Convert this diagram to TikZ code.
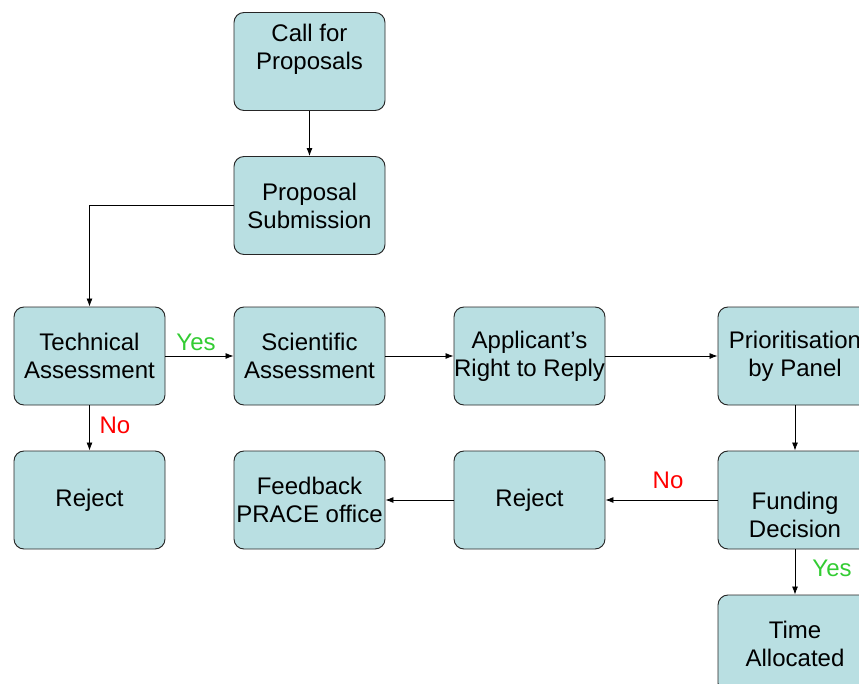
\documentclass[tikz,border=0pt]{standalone}
\usepackage{fontspec}
\setmainfont{Liberation Sans}
\usetikzlibrary{arrows.meta}
\definecolor{boxfill}{HTML}{B9DFE2}
\definecolor{yesgreen}{HTML}{33CC33}
\definecolor{nored}{HTML}{FF0000}
\begin{document}
\begin{tikzpicture}[x=0.75pt,y=-0.75pt,
  box/.style={draw=black!85, fill=boxfill, rounded corners=7.5pt, minimum width=113.25pt, minimum height=73.5pt, line width=0.7pt, inner sep=0pt},
  widebox/.style={box, minimum width=115.5pt},
  txt/.style={align=center, inner sep=0pt, font=\fontsize{18}{21}\selectfont},
  arr/.style={-{Latex[length=6pt,width=4.5pt]}, line width=0.6pt},
  yeslbl/.style={text=yesgreen, inner sep=0pt, font=\fontsize{18}{21}\selectfont},
  nolbl/.style={text=nored, inner sep=0pt, font=\fontsize{18}{21}\selectfont}]
\useasboundingbox (0,0) rectangle (859,684);
\clip (0,0) rectangle (859,684);
% boxes
\node[box] (call) at (309.5,61.5) {};
\node[txt] (callt) at (309.5,49) {Call for\\Proposals};
\node[box,txt] (prop) at (309.5,205.5) {Proposal\\Submission};
\node[box,txt] (tech) at (89.5,356) {Technical\\Assessment};
\node[box,txt] (sci) at (309.5,356) {Scientific\\Assessment};
\node[box,txt] (app) at (529.5,356) {Applicant’s\\Right to Reply};
\node[widebox,txt] (prio) at (795,356) {Prioritisation\\by Panel};
\node[box,txt] (rej1) at (89.5,500) {Reject};
\node[box,txt] (feed) at (309.5,500) {Feedback\\PRACE office};
\node[box,txt] (rej2) at (529.5,500) {Reject};
\node[widebox] (fund) at (795,500) {};
\node[txt] (fundt) at (795,515) {Funding\\Decision};
\node[widebox,txt] (time) at (795,644) {Time\\Allocated};
% connectors
\draw[arr] (call) -- (prop);
\draw[arr] (prop.west) -| (tech.north);
\draw[arr] (tech) -- (sci);
\draw[arr] (sci) -- (app);
\draw[arr] (app) -- (prio);
\draw[arr] (prio) -- (fund);
\draw[arr] (fund) -- (rej2);
\draw[arr] (rej2) -- (feed);
\draw[arr] (tech) -- (rej1);
\draw[arr] (fund) -- (time);
% labels
\node[yeslbl] (y1) at (196,342) {Yes};
\node[nolbl] (n1) at (115,425) {No};
\node[nolbl] (n2) at (668,480) {No};
\node[yeslbl] (y2) at (832,568) {Yes};
\end{tikzpicture}
\end{document}
